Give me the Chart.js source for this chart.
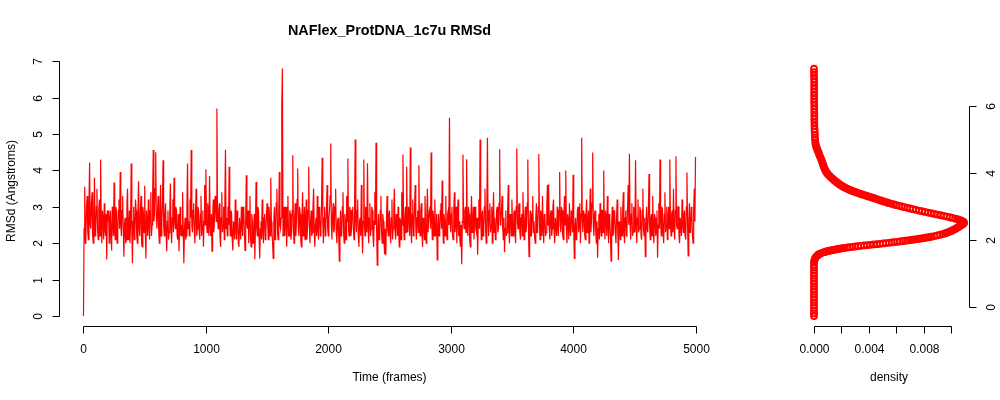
<!DOCTYPE html>
<html><head><meta charset="utf-8">
<script src="https://cdn.jsdelivr.net/npm/chart.js@4"></script>
<style>html,body{margin:0;padding:0;background:#fff;}#wrap{position:relative;width:1000px;height:400px;background:#fff;}canvas{position:absolute;left:0;top:0;}</style>
</head><body><div id="wrap"><canvas id="ts" width="1000" height="400"></canvas><canvas id="dens" width="1000" height="400"></canvas></div>
<script>
const chartTitle = 'NAFlex_ProtDNA_1c7u RMSd';
const xTitle = 'Time (frames)';
const yTitle = 'RMSd (Angstroms)';
const densTitle = 'density';
const FRAME_STEP = 5;
// RMSd every 5 frames (0..5000), one row = 100 frames
const rmsd = [
0.0,2.4,3.55,2.0,2.2,3.0,3.3,2.3,2.1,3.1,4.22,2.5,2.4,3.1,3.4,2.2,2.0,2.8,3.8,2.2,
2.3,3.0,3.5,2.4,2.1,2.9,3.2,2.2,4.3,2.6,2.0,2.9,2.7,2.1,3.1,2.4,2.2,2.8,1.55,2.9,
2.6,2.9,2.0,2.7,2.9,2.2,1.8,3.0,2.5,2.2,3.67,2.3,2.1,3.0,2.8,2.0,2.3,2.9,3.2,2.4,
3.96,2.5,2.2,2.9,3.3,2.4,1.63,2.5,2.7,2.0,2.1,3.1,3.5,2.1,2.4,2.9,2.0,2.6,4.19,2.3,
1.45,2.6,3.0,2.1,2.3,3.2,2.9,2.2,2.0,2.8,3.7,2.4,2.2,2.9,3.3,2.0,1.9,3.0,2.8,2.3,
3.58,2.3,1.58,2.9,2.6,2.2,3.2,2.5,2.1,2.9,3.4,2.2,2.5,3.3,4.56,2.6,2.8,3.5,4.5,2.7,
2.4,2.9,3.3,2.3,2.0,2.8,3.6,2.2,2.6,3.1,4.28,2.5,2.2,2.8,3.1,2.3,1.78,2.6,2.9,2.1,
2.3,2.8,3.64,2.4,2.0,2.7,3.2,2.3,3.8,2.6,2.4,3.0,2.9,2.2,2.1,2.8,1.78,2.4,3.0,2.2,
2.5,2.2,3.4,2.3,1.45,2.4,2.7,2.1,2.2,3.0,4.19,2.4,2.6,2.2,3.2,2.7,4.56,2.5,2.3,2.9,
3.1,2.4,2.0,2.8,3.5,2.2,2.4,3.0,2.9,2.3,2.1,2.8,3.3,2.2,2.5,2.9,1.9,2.6,3.6,2.5,
4.03,2.6,2.3,3.1,2.9,2.2,3.85,2.5,2.2,2.8,1.78,2.6,3.2,2.3,2.6,3.3,3.0,2.6,5.70,2.8,
2.4,2.9,3.1,2.2,1.9,2.7,3.4,2.3,2.5,3.0,2.1,3.2,4.57,2.4,2.7,2.2,3.0,2.5,4.1,2.6,
2.2,2.9,2.8,2.1,1.8,2.6,2.5,2.1,3.2,2.4,2.1,2.9,2.7,2.0,1.9,2.7,2.4,2.1,3.0,2.5,
2.2,3.0,2.9,2.2,1.8,2.6,3.87,2.5,2.4,2.9,2.0,2.6,3.3,2.1,1.9,2.8,2.6,2.0,2.3,2.8,
1.56,2.5,3.68,2.4,2.2,3.0,2.9,2.1,1.58,2.4,2.6,2.1,3.2,2.4,2.0,2.7,2.8,2.1,2.3,2.8,
3.1,2.5,2.1,3.0,2.7,2.2,3.8,2.6,2.3,2.0,1.58,2.6,3.0,2.1,2.4,3.1,3.5,2.3,2.1,2.8,
3.96,2.5,2.4,2.7,5.76,6.8,2.2,2.8,3.0,2.2,2.6,3.0,1.9,2.6,3.3,2.2,2.2,2.9,2.8,2.1,
2.3,2.9,4.42,2.4,2.0,2.7,3.1,2.2,2.6,3.2,4.05,2.4,2.2,3.0,2.8,2.1,1.9,2.7,3.4,2.2,
2.5,3.0,2.1,2.6,3.2,2.1,2.4,2.9,4.1,2.5,2.0,2.6,2.9,2.2,2.3,3.0,3.5,2.4,1.9,2.5,
2.7,2.2,3.3,2.4,2.1,3.0,2.8,2.2,2.4,3.1,4.35,2.6,2.0,2.7,3.0,2.2,2.5,2.9,3.6,2.4,
2.2,2.7,2.9,3.3,4.74,2.5,2.1,2.8,3.1,2.3,2.4,3.0,3.5,2.3,2.0,2.6,2.7,2.2,1.51,2.4,
2.9,2.2,2.3,3.0,3.4,2.3,2.0,2.8,2.6,2.1,3.3,2.6,4.33,2.4,2.2,3.0,2.9,2.2,2.4,2.9,
3.0,2.4,2.1,3.1,4.85,2.6,2.3,2.9,3.2,2.2,1.9,2.6,2.7,2.2,3.6,2.4,1.72,2.6,4.3,2.5,
2.2,3.0,2.8,2.3,4.2,2.5,2.0,2.7,3.1,2.2,2.4,3.0,2.9,2.2,1.9,2.6,3.4,2.5,4.76,2.3,
1.4,2.4,2.8,2.1,2.2,2.9,3.3,2.3,2.0,2.8,2.6,2.0,1.7,2.4,1.67,2.6,3.3,2.4,2.2,2.8,
2.9,2.3,2.0,2.7,3.2,2.1,2.4,3.0,3.5,2.4,2.1,2.8,2.7,2.2,3.0,2.3,1.9,2.7,2.6,2.1,
3.4,2.5,4.44,2.6,2.1,2.7,3.0,2.3,4.1,2.6,2.3,3.0,2.8,2.2,4.63,2.5,2.0,2.8,3.2,2.2,
2.4,3.0,3.6,2.4,2.1,2.7,2.9,2.3,4.14,2.5,2.2,2.9,3.1,2.3,1.9,2.7,2.6,2.1,3.3,2.5,
2.0,2.8,3.5,2.3,2.3,2.9,3.0,2.4,4.49,2.6,2.1,2.9,2.7,2.2,3.2,2.5,2.2,2.8,1.54,2.3,
2.8,2.2,2.3,2.9,3.1,2.4,3.72,2.5,2.0,2.8,2.6,2.2,3.3,2.4,2.1,2.8,2.9,2.5,5.45,2.6,
2.3,2.8,3.0,2.2,2.1,2.9,3.4,2.3,2.5,3.0,2.0,2.7,3.2,2.2,2.6,2.1,1.9,2.5,1.42,2.6,
4.44,2.6,2.4,2.9,3.0,2.3,4.31,2.5,2.2,3.0,2.8,2.1,1.9,2.7,3.3,2.3,2.5,3.0,2.1,2.6,
3.0,2.4,2.3,2.7,1.68,2.5,3.2,2.4,4.85,2.7,2.1,2.8,2.9,2.2,2.4,3.0,3.5,2.4,2.0,2.8,
4.9,2.6,2.2,2.9,3.1,2.3,2.5,3.0,2.0,2.7,3.4,2.3,2.7,2.1,2.2,2.9,3.0,2.3,2.4,3.1,
4.58,2.5,2.6,2.9,3.3,2.4,2.1,2.7,1.75,2.4,2.9,2.2,2.3,2.9,3.6,2.4,2.0,2.8,2.7,2.2,
3.2,2.5,2.2,2.8,2.9,2.3,2.0,3.0,4.6,2.6,2.4,3.0,3.1,2.3,2.1,2.7,2.8,2.2,3.4,2.6,
2.1,2.7,3.0,2.3,2.5,3.1,4.3,2.4,1.63,2.5,2.9,2.2,2.2,2.8,3.3,2.3,2.6,2.2,2.0,2.7,
3.1,2.3,2.4,3.0,4.45,2.5,2.1,2.9,2.8,2.2,3.3,2.4,2.0,2.8,2.7,2.2,2.3,3.0,3.6,2.5,
3.62,2.4,2.1,2.8,2.9,2.2,2.4,3.0,3.2,2.3,2.0,2.7,2.7,2.2,3.0,2.4,2.2,2.9,3.96,2.5,
2.3,3.0,2.9,2.2,2.1,2.8,3.3,2.5,4.0,2.4,2.0,2.8,2.6,2.1,3.1,2.4,2.2,2.9,2.8,2.3,
3.88,2.4,1.58,2.5,2.7,2.1,2.2,2.9,3.0,2.3,2.5,3.1,2.0,2.8,4.9,2.6,2.3,2.9,2.8,2.2,
2.1,2.8,3.2,2.3,2.4,2.9,2.0,2.7,3.5,2.3,2.6,3.1,4.49,2.5,2.2,2.8,2.9,2.3,2.0,2.6,
1.6,2.4,2.8,2.1,3.1,2.4,2.2,2.9,2.9,2.3,4.0,2.5,2.1,2.9,2.7,2.2,3.3,2.5,2.0,2.8,
2.6,2.2,1.51,2.5,3.0,2.2,2.3,2.9,2.8,2.3,2.0,2.7,3.2,2.3,1.54,2.6,2.5,2.1,3.0,2.5,
2.2,2.9,3.4,2.3,2.0,2.7,2.9,2.2,2.4,3.0,3.6,2.5,4.46,2.6,2.1,2.8,3.1,2.2,2.3,3.0,
2.8,2.3,4.28,2.5,2.0,2.7,3.2,2.3,2.4,3.0,2.9,2.2,2.1,2.9,3.5,2.4,2.2,2.7,1.63,2.4,
3.0,2.4,2.3,2.9,3.9,2.5,2.1,2.7,2.8,2.2,3.3,2.4,2.0,2.8,2.7,2.2,2.4,2.9,1.6,2.5,
3.1,2.4,4.3,2.6,2.2,3.0,2.9,2.3,2.0,2.8,3.4,2.3,2.5,3.0,2.1,2.7,3.0,2.4,4.3,2.6,
2.2,2.8,2.9,2.3,3.5,2.4,2.1,2.9,4.39,2.5,2.4,3.0,3.0,2.2,2.0,2.7,2.7,2.2,3.2,2.5,
2.3,2.8,2.9,2.2,2.1,3.0,3.94,2.5,1.65,2.6,3.1,2.3,2.4,3.0,2.8,2.2,2.0,2.9,3.5,2.6,
4.37];
const timeTicks = [0,1000,2000,3000,4000,5000];
const rmsdTicks = [0,1,2,3,4,5,6,7];

// density curve: RMSd value (vertical) and density (horizontal)
const densityRmsd = [
-0.26,-0.18,-0.10,-0.02,0.06,0.14,0.22,0.30,0.38,0.46,0.54,0.62,0.70,0.78,0.86,0.94,1.02,1.10,1.18,1.26,1.34,
1.40,1.44,1.48,1.51,1.54,1.56,1.58,1.60,1.62,1.64,
1.65,1.66,1.67,1.68,1.69,1.70,1.71,1.72,1.73,1.74,1.75,1.76,1.77,1.78,1.79,1.80,1.81,1.82,1.83,1.84,1.85,1.86,1.87,1.88,1.89,1.90,1.91,1.92,1.93,1.94,1.95,1.96,1.97,1.98,1.99,2.00,2.01,2.02,2.03,2.04,2.05,2.06,2.07,2.08,2.09,2.10,
2.12,2.14,2.16,2.18,2.20,2.22,2.24,2.26,2.28,2.30,
2.33,2.36,2.39,2.42,2.45,2.48,2.50,
2.52,2.54,2.56,2.58,2.60,2.62,2.64,2.66,2.68,2.70,2.72,2.74,2.76,2.78,2.80,2.82,2.84,2.86,2.88,2.90,2.92,2.94,2.96,2.98,3.00,3.02,3.04,3.06,3.08,3.10,3.12,3.14,3.16,3.18,3.20,3.22,3.24,3.26,3.28,3.30,3.32,3.34,3.36,3.38,3.40,3.42,3.44,3.46,3.48,3.50,
3.53,3.56,3.59,3.62,3.65,3.68,3.71,3.74,3.77,3.80,
3.84,3.88,3.92,3.96,4.00,
4.05,4.10,4.15,4.20,4.25,4.30,4.35,4.40,4.45,4.50,4.55,4.60,4.65,4.70,4.75,4.80,4.85,4.90,
4.98,5.06,5.14,5.22,5.30,
5.40,5.50,5.60,5.70,5.80,5.90,6.00,6.10,6.20,6.30,6.40,6.50,6.60,6.70,6.80,6.90,7.00,7.10];
const densityValue = [
0,0,0,0,0,0,0,0,0,0,0,0,0,0,0,0,0,0,0,0,0,
0.00003,0.00006,0.00011,0.00016,0.00024,0.00030,0.00037,0.00046,0.00058,0.00074,
0.00082,0.00090,0.00099,0.00109,0.00120,0.00132,0.00145,0.00158,0.00170,0.00182,0.00195,0.00209,0.00225,0.00243,0.00262,0.00282,0.00301,0.00320,0.00341,0.00363,0.00386,0.00410,0.00434,0.00458,0.00481,0.00503,0.00524,0.00545,0.00566,0.00586,0.00606,0.00626,0.00645,0.00664,0.00682,0.00700,0.00717,0.00734,0.00751,0.00767,0.00783,0.00798,0.00813,0.00827,0.00841,0.00854,
0.00878,0.00900,0.00920,0.00938,0.00954,0.00968,0.00981,0.00993,0.01004,0.01014,
0.01028,0.01041,0.01053,0.01064,0.01076,0.01086,0.01092,
0.01093,0.01090,0.01083,0.01073,0.01060,0.01045,0.01028,0.01009,0.00989,0.00968,0.00946,0.00923,0.00900,0.00877,0.00854,0.00831,0.00808,0.00786,0.00764,0.00742,0.00721,0.00700,0.00680,0.00660,0.00640,0.00620,0.00601,0.00583,0.00565,0.00548,0.00532,0.00516,0.00501,0.00486,0.00472,0.00457,0.00442,0.00427,0.00412,0.00397,0.00382,0.00367,0.00352,0.00337,0.00323,0.00309,0.00295,0.00282,0.00270,0.00258,
0.00242,0.00227,0.00213,0.00201,0.00190,0.00180,0.00170,0.00161,0.00152,0.00143,
0.00132,0.00121,0.00111,0.00102,0.00094,
0.00086,0.00080,0.00075,0.00070,0.00066,0.00062,0.00058,0.00053,0.00048,0.00043,0.00038,0.00034,0.00029,0.00024,0.00019,0.00015,0.00012,0.00010,
0.00008,0.00007,0.00006,0.00005,0.00004,
0.00003,0.00003,0.00002,0.00002,0.00002,0.00002,0.00002,0.00001,0.00001,0.00001,0.00001,0.00001,0.00001,0.00001,0.00001,0,0,0];
const densTicks = [0,0.002,0.004,0.006,0.008,0.010];
const densTickLabels = ['0.000','','0.004','','0.008',''];
const densRmsdTicks = [0,2,4,6];

const FONT = '"Liberation Sans", Arial, Helvetica, sans-serif';

const rAxes = {
  id: 'rAxes',
  afterDraw(chart, args, cfg) {
    const ctx = chart.ctx, xs = chart.scales.x, ys = chart.scales.y, ca = chart.chartArea;
    ctx.save();
    ctx.strokeStyle = '#000'; ctx.fillStyle = '#000'; ctx.lineWidth = 1;
    ctx.font = '12px ' + FONT;
    const yb = Math.round(ca.bottom) + 0.5;
    const xp = cfg.xTicks.map(v => Math.round(xs.getPixelForValue(v)) + 0.5);
    ctx.beginPath();
    ctx.moveTo(xp[0], yb); ctx.lineTo(xp[xp.length - 1], yb);
    xp.forEach(p => { ctx.moveTo(p, yb); ctx.lineTo(p, yb + 7); });
    ctx.stroke();
    ctx.textAlign = 'center'; ctx.textBaseline = 'middle';
    cfg.xLabels.forEach((l, i) => { if (l) ctx.fillText(l, xp[i], 350); });
    ctx.fillText(cfg.xTitle, (ca.left + ca.right) / 2, 378);
    const left = cfg.ySide === 'left';
    const xa = (left ? Math.round(ca.left) : Math.round(ca.right) - 1) + 0.5;
    const yp = cfg.yTicks.map(v => Math.round(ys.getPixelForValue(v)) + 0.5);
    const d = left ? -7 : 7;
    ctx.beginPath();
    ctx.moveTo(xa, yp[0]); ctx.lineTo(xa, yp[yp.length - 1]);
    yp.forEach(p => { ctx.moveTo(xa, p); ctx.lineTo(xa + d, p); });
    ctx.stroke();
    const lx = left ? xa - 21 : xa + 22;
    cfg.yTicks.forEach((v, i) => {
      ctx.save(); ctx.translate(lx, yp[i]); ctx.rotate(-Math.PI / 2);
      ctx.fillText(String(v), 0, 0); ctx.restore();
    });
    if (cfg.yTitle) {
      ctx.save(); ctx.translate(12, (ca.top + ca.bottom) / 2); ctx.rotate(-Math.PI / 2);
      ctx.fillText(cfg.yTitle, 0, 0); ctx.restore();
    }
    if (cfg.title) {
      ctx.font = 'bold 14.4px ' + FONT;
      ctx.fillText(cfg.title, (ca.left + ca.right) / 2, 31);
    }
    ctx.restore();
  }
};

new Chart(document.getElementById('ts'), {
  type: 'line',
  data: { datasets: [{
    data: rmsd.map((v, i) => ({ x: i * FRAME_STEP, y: v })),
    borderColor: '#ff0000', borderWidth: 1.2, pointRadius: 0, tension: 0, fill: false
  }]},
  options: {
    responsive: false, animation: false, devicePixelRatio: 1,
    layout: { padding: { left: 59, right: 280, top: 56, bottom: 74 } },
    scales: {
      x: { type: 'linear', min: -200, max: 5200, display: false },
      y: { type: 'linear', min: -0.275, max: 7.145, display: false }
    },
    plugins: {
      legend: { display: false }, tooltip: { enabled: false },
      rAxes: { xTicks: timeTicks, xLabels: timeTicks.map(String), xTitle: xTitle,
               yTicks: rmsdTicks, ySide: 'left', yTitle: yTitle, title: chartTitle }
    }
  },
  plugins: [rAxes]
});

new Chart(document.getElementById('dens'), {
  type: 'scatter',
  data: { datasets: [{
    data: densityValue.map((v, i) => ({ x: v, y: densityRmsd[i] })),
    showLine: false, pointStyle: 'circle', pointRadius: 3, pointBorderWidth: 1.8,
    pointBackgroundColor: 'rgba(0,0,0,0)', pointBorderColor: '#ff0000', clip: false
  }]},
  options: {
    responsive: false, animation: false, devicePixelRatio: 1,
    layout: { padding: { left: 808, right: 30, top: 56, bottom: 74 } },
    scales: {
      x: { type: 'linear', min: -0.000437, max: 0.011367, display: false },
      y: { type: 'linear', min: -0.557, max: 7.48, display: false }
    },
    plugins: {
      legend: { display: false }, tooltip: { enabled: false },
      rAxes: { xTicks: densTicks, xLabels: densTickLabels, xTitle: densTitle,
               yTicks: densRmsdTicks, ySide: 'right' }
    }
  },
  plugins: [rAxes]
});
</script>
</body></html>
